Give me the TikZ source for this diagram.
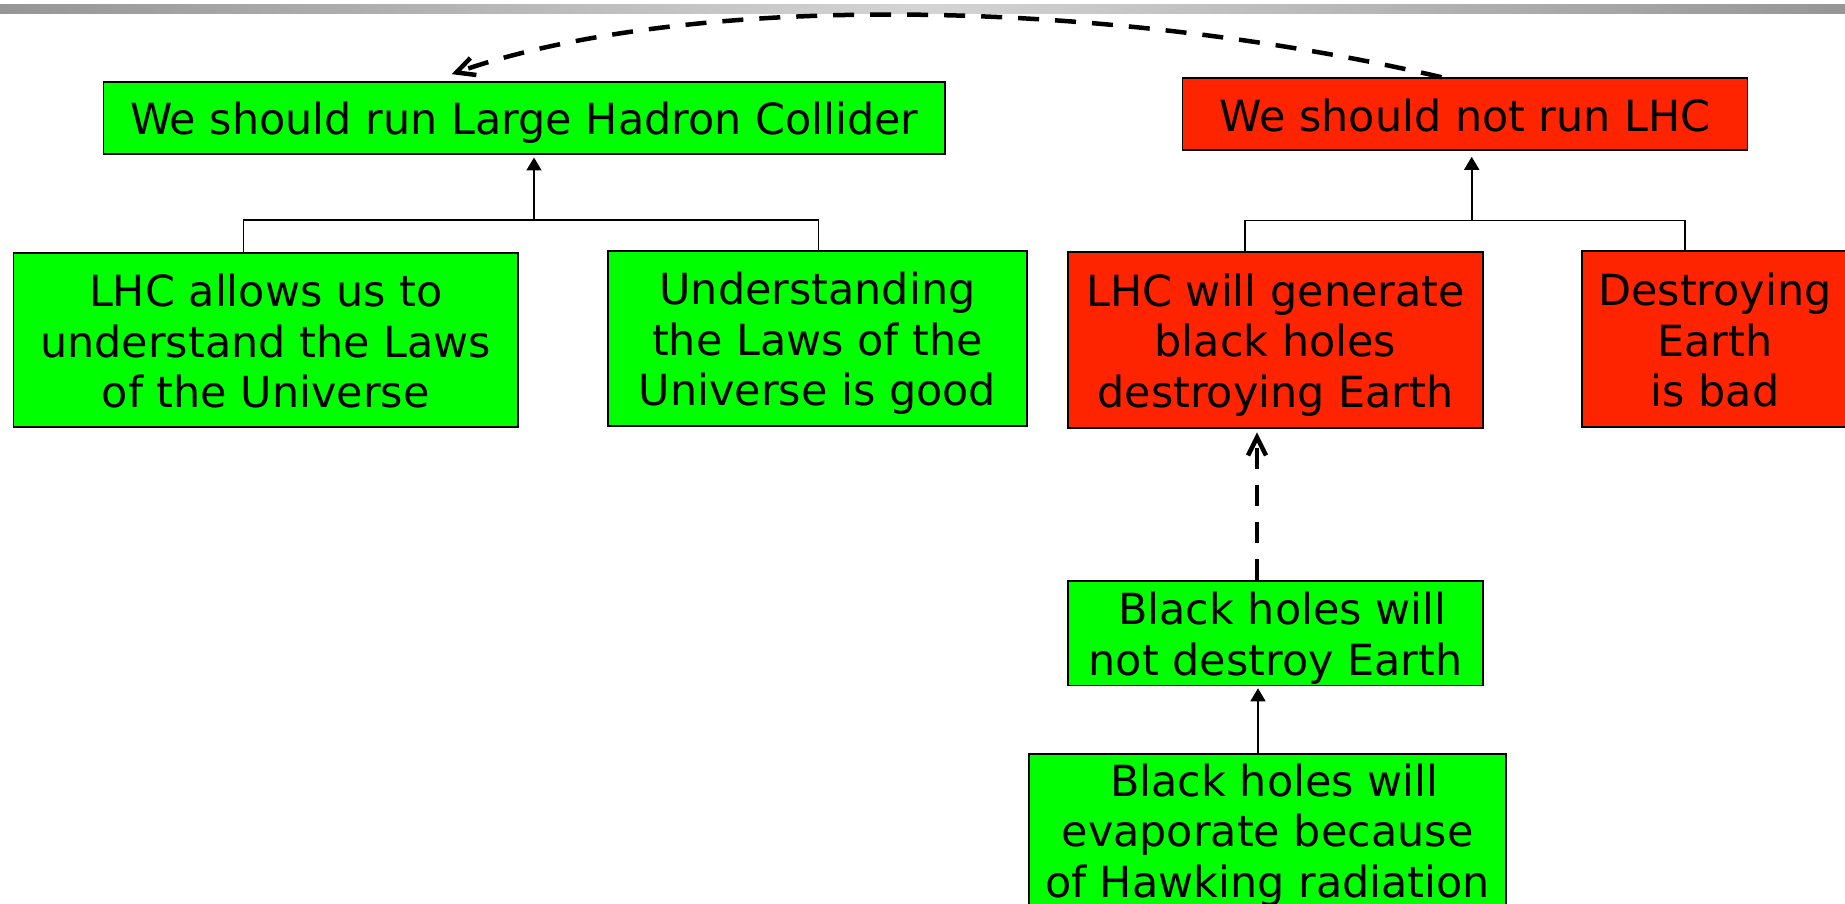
\documentclass[tikz,border=0pt]{standalone}
\usepackage{fontspec}
\setmainfont{DejaVu Sans}
\usetikzlibrary{arrows.meta,calc}

\definecolor{boxgreen}{RGB}{0,255,0}
\definecolor{boxred}{RGB}{255,36,0}
\definecolor{baredge}{RGB}{150,150,150}
\definecolor{barmid}{RGB}{212,212,212}

% box text: fixed baseline grid, every line carries the same strut
\newcommand\boxfont{\fontsize{42.9pt}{50.5pt}\selectfont\lineskiplimit=-100pt\relax}
\newcommand\bs{\rule[-8pt]{0pt}{50.5pt}}

\tikzset{
  box/.style={draw=black, line width=1.6pt, inner sep=0pt, align=center, font=\boxfont, text=black},
  greenbox/.style={box, fill=boxgreen},
  redbox/.style={box, fill=boxred},
  link/.style={draw=black, line width=1.6pt},
  supportarrow/.style={link, -{Triangle[length=13pt,width=15pt]}},
  attackline/.style={draw=black, line width=4.5pt, dash pattern=on 21pt off 16pt},
  chevron/.style={draw=black, solid, line width=4.5pt, line join=miter, miter limit=10, line cap=butt},
}

\begin{document}
\begin{tikzpicture}[x=1pt,y=1pt]
  \useasboundingbox (0,0) rectangle (1845,904);
  \clip (0,0) rectangle (1845,904);
  \fill[white] (0,0) rectangle (1845,904);

  % header strip
  \shade[left color=baredge, right color=baredge, middle color=barmid]
    (0,890) rectangle (1845,899);

  % claims
  \node[greenbox, minimum width=841.5pt, minimum height=72pt] (A) at (524.25,786)
    {\bs We should run Large Hadron Collider};
  \node[redbox, minimum width=565pt, minimum height=72pt] (B) at (1465,790)
    {\bs We should not run LHC};

  % premises
  \node[greenbox, minimum width=504.5pt, minimum height=174pt] (C) at (265.75,564)
    {\bs LHC allows us to\\\bs understand the Laws\\\bs of the Universe};
  \node[greenbox, minimum width=419pt, minimum height=175pt] (D) at (817.5,565.5)
    {\bs Understanding\\\bs the Laws of the\\\bs Universe is good};
  \node[redbox, minimum width=415pt, minimum height=176pt] (E) at (1275.5,564)
    {\bs LHC will generate\\\bs black holes\\\bs destroying Earth};
  \node[redbox, minimum width=266pt, minimum height=176pt] (F) at (1715,565)
    {\bs Destroying\\\bs Earth\\\bs is bad};

  % rebuttal chain
  \node[greenbox, minimum width=415pt, minimum height=104.5pt] (G) at (1275.5,270.75)
    {\bs\ Black holes will\\\bs not destroy Earth};
  \node[greenbox, minimum width=477pt, inner ysep=0pt, anchor=north] (H) at (1267.5,151)
    {\bs\ Black holes will\\\bs evaporate because\\\bs of Hawking radiation\rule[-60pt]{0pt}{1pt}};

  % joint support brackets
  \coordinate (jA) at (534,683.7);
  \coordinate (jB) at (1471.7,683.3);
  \draw[link] ([xshift=-22.15pt]C.north) |- (jA) -| ([xshift=0.8pt]D.north);
  \draw[supportarrow, shorten >=2.7pt] (jA) -- (jA |- A.south);
  \draw[link] ([xshift=-30.5pt]E.north) |- (jB) -| ([xshift=-30pt]F.north);
  \draw[supportarrow, shorten >=6pt] (jB) -- (jB |- B.south);

  % H supports G
  \draw[supportarrow, shorten >=2pt] ([xshift=-9.5pt]H.north) -- ([xshift=-17.5pt]G.south);

  % attack of G on E: dashed shaft, open chevron head
  \coordinate (tipE) at ([xshift=-18.5pt,yshift=-8.7pt]E.south);
  \draw[attackline] ([xshift=-18.5pt]G.north) -- (tipE);
  \draw[chevron] ($(tipE)+(-9pt,-18pt)$) -- (tipE) -- ($(tipE)+(9pt,-18pt)$);

  % attack of B on A: dashed arc, open chevron head
  \coordinate (tipA) at ([xshift=-67.85pt,yshift=8.7pt]A.north);
  \draw[attackline] ([xshift=-23.5pt]B.north) .. controls (1091.5,908) and (682,911) .. (tipA);
  \draw[chevron] ($(tipA)+(14pt,14.5pt)$) -- (tipA) -- ($(tipA)+(20pt,-2.5pt)$);
\end{tikzpicture}
\end{document}
